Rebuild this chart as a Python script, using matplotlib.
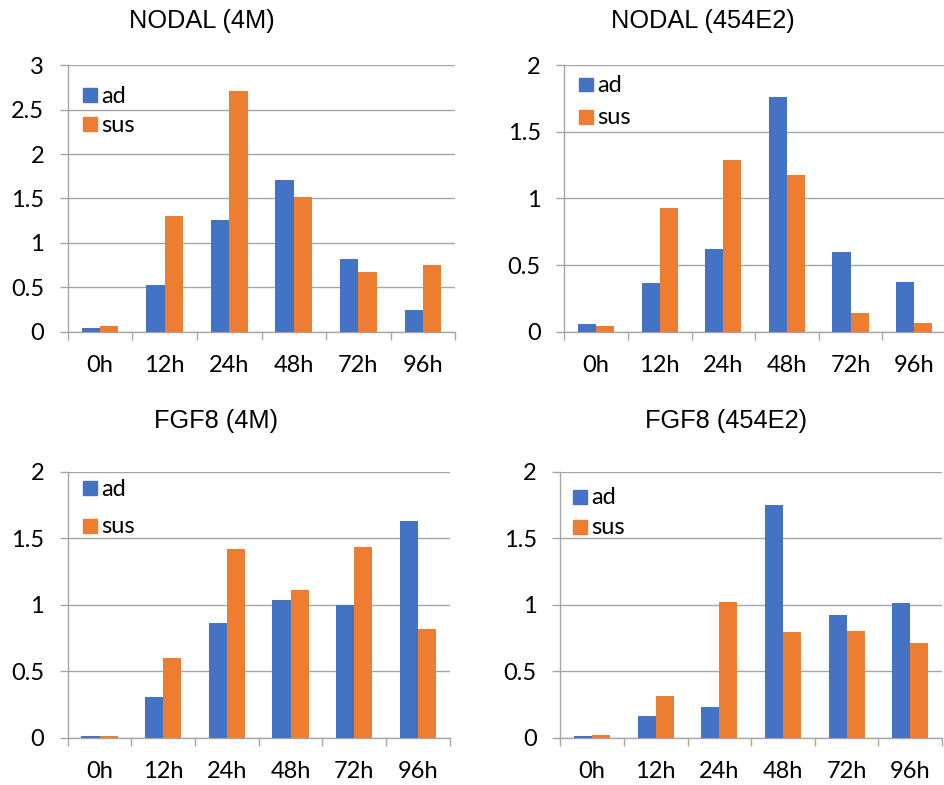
import matplotlib
matplotlib.use("Agg")
import matplotlib.pyplot as plt
from matplotlib.patches import Rectangle
import numpy as np

# ---- data -------------------------------------------------------------
timepoints = ["0h", "12h", "24h", "48h", "72h", "96h"]
series_names = ["ad", "sus"]

nodal_4m_ad = [0.04, 0.53, 1.26, 1.71, 0.82, 0.24]
nodal_4m_sus = [0.06, 1.30, 2.71, 1.52, 0.67, 0.75]

nodal_454e2_ad = [0.06, 0.365, 0.62, 1.76, 0.595, 0.37]
nodal_454e2_sus = [0.043, 0.925, 1.29, 1.18, 0.138, 0.065]

fgf8_4m_ad = [0.01, 0.31, 0.86, 1.035, 1.0, 1.63]
fgf8_4m_sus = [0.013, 0.60, 1.42, 1.11, 1.435, 0.82]

fgf8_454e2_ad = [0.013, 0.166, 0.228, 1.75, 0.92, 1.015]
fgf8_454e2_sus = [0.02, 0.315, 1.02, 0.795, 0.805, 0.71]

titles = ["NODAL (4M)", "NODAL (454E2)", "FGF8 (4M)", "FGF8 (454E2)"]
y_max = [3, 2, 2, 2]

# ---- style --------------------------------------------------------------
W, H = 945, 785
BLUE = "#4472C4"
ORANGE = "#ED7D31"
GRID = "#A6A6A6"
TICK_FONT = "Lato"
TITLE_FONT = "Liberation Sans"
LABEL_SIZE = 17
TITLE_SIZE = 18.3

fig = plt.figure(figsize=(W / 100, H / 100), dpi=100)


def fx(px):
    return px / W


def fy(py):
    return 1 - py / H


# panel layout in pixels: left, right, top, bottom
boxes = [
    (67.7, 455.3, 65.3, 331.7),
    (564.3, 945.9, 65.3, 331.7),
    (67.7, 449.7, 472.0, 737.7),
    (560.3, 942.0, 472.0, 737.7),
]
title_pos = [(202, 28.3), (703, 28.3), (216, 428.3), (726, 428.3)]
# legend key squares: left x, top y of first key, row step
legend_pos = [(83, 88.3, 29.0), (579, 77.7, 32.3), (83, 481.3, 37.7), (573, 490.0, 30.0)]

data = [
    (nodal_4m_ad, nodal_4m_sus),
    (nodal_454e2_ad, nodal_454e2_sus),
    (fgf8_4m_ad, fgf8_4m_sus),
    (fgf8_454e2_ad, fgf8_454e2_sus),
]

x = np.arange(len(timepoints))
bw = 0.284

for i, ((l, r, t, b), (ad, sus)) in enumerate(zip(boxes, data)):
    ax = fig.add_axes([fx(l), fy(b), fx(r - l), (b - t) / H])
    ax.bar(x - bw / 2, ad, bw, color=BLUE, zorder=3, label=series_names[0])
    ax.bar(x + bw / 2, sus, bw, color=ORANGE, zorder=3, label=series_names[1])

    ax.set_xlim(-0.5, len(timepoints) - 0.5)
    ax.set_ylim(0, y_max[i])
    yt = np.arange(0, y_max[i] + 0.01, 0.5)
    ax.set_yticks(yt)
    ax.set_yticklabels([f"{v:g}" for v in yt])
    ax.yaxis.grid(True, color=GRID, linewidth=1.0, zorder=0)

    # category boundaries carry the tick marks, centres carry the labels
    ax.set_xticks(np.arange(-0.5, len(timepoints)), minor=False)
    ax.set_xticklabels([])
    ax.set_xticks(x, minor=True)
    ax.set_xticklabels(timepoints, minor=True)

    for s in ["top", "right"]:
        ax.spines[s].set_visible(False)
    for s in ["left", "bottom"]:
        ax.spines[s].set_color(GRID)
        ax.spines[s].set_linewidth(1.0)

    ax.tick_params(axis="x", which="major", direction="out", length=5.4,
                   width=1.0, color=GRID)
    ax.tick_params(axis="x", which="minor", length=0, pad=17,
                   labelsize=LABEL_SIZE, labelcolor="black")
    ax.tick_params(axis="y", direction="out", length=5.5, width=1.0,
                   color=GRID, pad=11.5, labelsize=LABEL_SIZE, labelcolor="black")
    for lab in ax.get_xticklabels(minor=True) + ax.get_yticklabels():
        lab.set_fontfamily(TICK_FONT)

    tx, ty = title_pos[i]
    fig.text(fx(tx), fy(ty), titles[i], ha="center", va="baseline",
             fontsize=TITLE_SIZE, family=TITLE_FONT, color="black")

    # legend keys
    lx, ly, step = legend_pos[i]
    size = 13.7
    for k, (name, col) in enumerate(zip(series_names, [BLUE, ORANGE])):
        top = ly + k * step
        fig.patches.append(Rectangle((fx(lx), fy(top + size)), fx(size), size / H,
                                     transform=fig.transFigure, color=col,
                                     figure=fig))
        fig.text(fx(lx + size + 4.5), fy(top + size / 2 + 1), name, ha="left",
                 va="center", fontsize=LABEL_SIZE, family=TICK_FONT, color="black")

fig.savefig("out.png", dpi=100)
